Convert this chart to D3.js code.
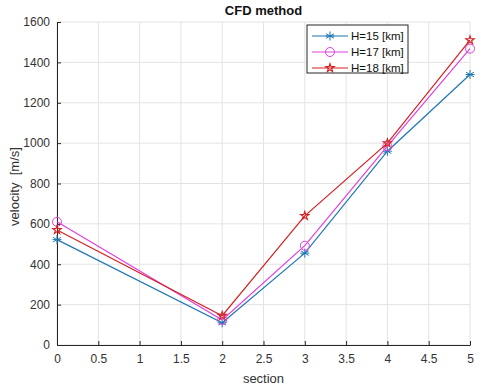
<!DOCTYPE html>
<html><head><meta charset="utf-8">
<script src="https://cdn.jsdelivr.net/npm/d3@7"></script>
<style>body{margin:0;background:#fff}svg{display:block}text{font-family:"Liberation Sans",Arial,sans-serif}</style>
</head><body>
<script>
const sections = [0, 2, 3, 4, 5];
const h15 = [522, 110, 455, 960, 1340];
const h17 = [610, 124, 492, 985, 1468];
const h18 = [570, 145, 640, 1000, 1510];
const seriesNames = ["H=15 [km]", "H=17 [km]", "H=18 [km]"];
const xTicks = [0, 0.5, 1, 1.5, 2, 2.5, 3, 3.5, 4, 4.5, 5];
const yTicks = [0, 200, 400, 600, 800, 1000, 1200, 1400, 1600];

const W = 480, H = 390;
const m = {l: 57, r: 10, t: 22, b: 45};
const svg = d3.select("body").append("svg").attr("width", W).attr("height", H);
const x = d3.scaleLinear().domain([0, 5]).range([m.l, W - m.r]);
const y = d3.scaleLinear().domain([0, 1600]).range([H - m.b, m.t]);

// grid
const g = svg.append("g");
g.selectAll(".gx").data(xTicks).enter().append("line")
  .attr("x1", d => x(d)).attr("x2", d => x(d)).attr("y1", y(0)).attr("y2", y(1600))
  .attr("stroke", "#e3e3e3").attr("stroke-width", 1);
g.selectAll(".gy").data(yTicks).enter().append("line")
  .attr("x1", x(0)).attr("x2", x(5)).attr("y1", d => y(d)).attr("y2", d => y(d))
  .attr("stroke", "#e3e3e3").attr("stroke-width", 1);

// axes
const xAxis = d3.axisBottom(x).tickValues(xTicks).tickSizeInner(-4).tickSizeOuter(0).tickPadding(9).tickFormat(d3.format("~g"));
const yAxis = d3.axisLeft(y).tickValues(yTicks).tickSizeInner(-4).tickSizeOuter(0).tickPadding(7).tickFormat(d3.format("d"));
const ax = svg.append("g").attr("transform", `translate(0,${y(0)})`).call(xAxis);
const ay = svg.append("g").attr("transform", `translate(${x(0)},0)`).call(yAxis);
[ax, ay].forEach(a => {
  a.select(".domain").attr("stroke", "#262626");
  a.selectAll(".tick line").attr("stroke", "#262626");
  a.selectAll(".tick text").attr("fill", "#333").attr("font-size", 12).style("font-family", '"Liberation Sans",Arial,sans-serif');
});

// labels
svg.append("text").attr("x", (x(0) + x(5)) / 2).attr("y", 15).attr("text-anchor", "middle")
  .attr("font-weight", "bold").attr("font-size", 13).attr("fill", "#111").text("CFD method");
svg.append("text").attr("x", (x(0) + x(5)) / 2).attr("y", 383).attr("text-anchor", "middle")
  .attr("font-size", 13).attr("fill", "#333").text("section");
svg.append("text").attr("transform", `translate(19,${(y(0) + y(1600)) / 2 + 3}) rotate(-90)`)
  .attr("text-anchor", "middle").attr("font-size", 13).attr("fill", "#333")
  .style("white-space", "pre").text("velocity  [m/s]");

const colors = ["#1f77b4", "#e040e0", "#d42020"];
const markers = ["star", "circle", "penta"];
const data = [h15, h17, h18];

function drawMarker(sel, type, color, cx, cy) {
  if (type === "circle") {
    sel.append("circle").attr("cx", cx).attr("cy", cy).attr("r", 4.5)
      .attr("fill", "none").attr("stroke", color).attr("stroke-width", 1);
  } else if (type === "star") {
    const r = 4.5;
    const p = [];
    [0, 60, 120].forEach(a => {
      const t = a * Math.PI / 180;
      p.push(`M${cx + r * Math.sin(t)},${cy - r * Math.cos(t)}L${cx - r * Math.sin(t)},${cy + r * Math.cos(t)}`);
    });
    p.push(`M${cx - r},${cy}L${cx + r},${cy}`);
    sel.append("path").attr("d", p.join("")).attr("stroke", color).attr("stroke-width", 1).attr("fill", "none");
  } else {
    sel.append("path").attr("d", d3.symbol(d3.symbolStar, 22)())
      .attr("transform", `translate(${cx},${cy})`)
      .attr("fill", "none").attr("stroke", color).attr("stroke-width", 1.1);
  }
}

const line = d3.line().x(d => x(d[0])).y(d => y(d[1]));
data.forEach((vals, i) => {
  const pts = sections.map((s, j) => [s, vals[j]]);
  svg.append("path").datum(pts).attr("d", line).attr("fill", "none")
    .attr("stroke", colors[i]).attr("stroke-width", 1.2);
  pts.forEach(p => drawMarker(svg, markers[i], colors[i], x(p[0]), y(p[1])));
});

// legend
const lg = svg.append("g");
lg.append("rect").attr("x", 307).attr("y", 25).attr("width", 101).attr("height", 48)
  .attr("fill", "#fff").attr("stroke", "#262626").attr("stroke-width", 1);
seriesNames.forEach((n, i) => {
  const yy = 36 + i * 16;
  lg.append("line").attr("x1", 312).attr("x2", 348).attr("y1", yy).attr("y2", yy)
    .attr("stroke", colors[i]).attr("stroke-width", 1.2);
  drawMarker(lg, markers[i], colors[i], 330, yy);
  lg.append("text").attr("x", 351).attr("y", yy + 4).attr("font-size", 11.5).attr("fill", "#111").text(n);
});
</script>
</body></html>
